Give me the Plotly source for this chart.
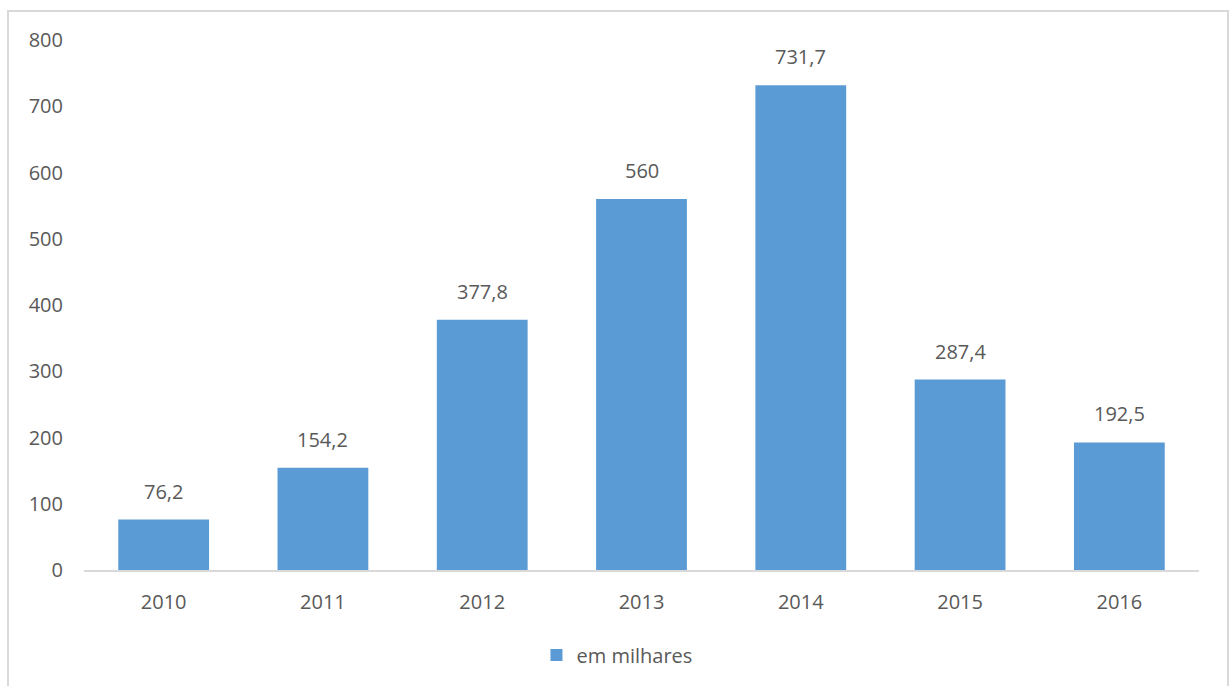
import plotly.graph_objects as go

years = ["2010", "2011", "2012", "2013", "2014", "2015", "2016"]
values = [76.2, 154.2, 377.8, 560, 731.7, 287.4, 192.5]
labels = ["76,2", "154,2", "377,8", "560", "731,7", "287,4", "192,5"]
series_name = "em milhares"
y_ticks = [0, 100, 200, 300, 400, 500, 600, 700, 800]

FONT = "Open Sans"
GREY = "#595959"
BLUE = "#5B9BD5"
FS = 20

fig = go.Figure()
fig.add_trace(go.Bar(x=years, y=values, name=series_name, marker_color=BLUE,
                     marker_line_width=0, showlegend=True))

for i, (v, t) in enumerate(zip(values, labels)):
    fig.add_annotation(x=i, y=v, text=t, showarrow=False, yanchor="bottom",
                       yshift=13, font=dict(family=FONT, size=FS, color=GREY))

L, R, T, B = 84, 30, 40, 116
W, H = 1229, 686
pw, ph = W - L - R, H - T - B

def px_x(p):
    return (p - L) / pw

def px_y(p):
    return (H - B - p) / ph

fig.add_shape(type="rect", xref="paper", yref="paper",
              x0=px_x(8), x1=px_x(1228), y0=px_y(700), y1=px_y(11),
              line=dict(color="#d9d9d9", width=2), fillcolor="rgba(0,0,0,0)", layer="below")

fig.update_layout(
    width=W, height=H,
    margin=dict(l=L, r=R, t=T, b=B, autoexpand=False),
    paper_bgcolor="white", plot_bgcolor="white",
    bargap=0.43,
    font=dict(family=FONT, size=FS, color=GREY),
    showlegend=True,
    legend=dict(orientation="h", x=0.478, xanchor="center", y=px_y(655), yanchor="middle",
                font=dict(family=FONT, size=FS, color=GREY), itemwidth=30,
                bgcolor="rgba(0,0,0,0)"),
    xaxis=dict(type="category", range=[-0.5, len(years) - 0.5], showline=True,
               linecolor="#d9d9d9", linewidth=2, showgrid=False,
               ticks="", ticklabelstandoff=13, tickfont=dict(family=FONT, size=FS, color=GREY)),
    yaxis=dict(range=[0, 800], tickvals=y_ticks, showgrid=False, showline=False,
               zeroline=False, ticks="", ticklabelstandoff=20,
               tickfont=dict(family=FONT, size=FS, color=GREY)),
)

fig.write_html("out.html", config={"displayModeBar": False},
               post_script="document.body.style.margin='0';")
